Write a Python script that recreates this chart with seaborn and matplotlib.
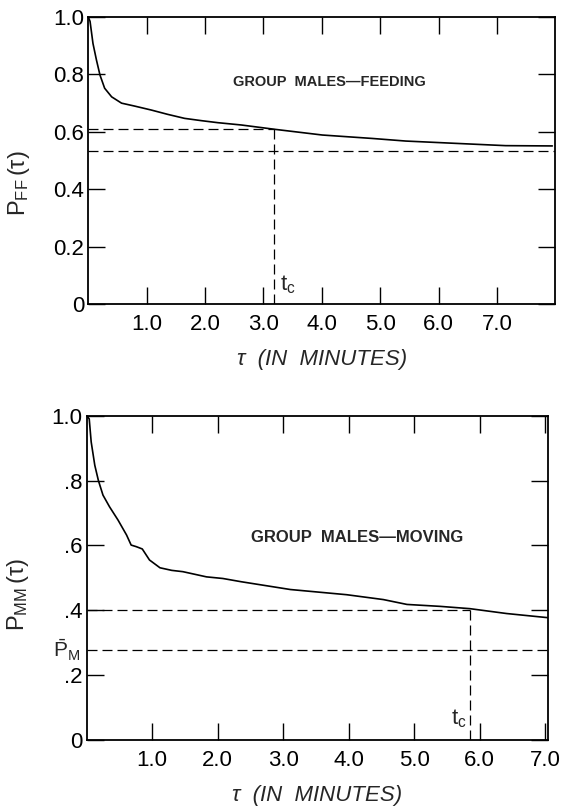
import numpy as np
import pandas as pd
import seaborn as sns
from matplotlib import pyplot as plt
from matplotlib import transforms

# --- data ---
# upper panel: group males, feeding
tau_feed = [0.0, 0.03, 0.08, 0.14, 0.20, 0.28, 0.40, 0.57, 0.79, 1.08, 1.36, 1.65,
            1.94, 2.22, 2.62, 3.19, 4.01, 4.87, 5.44, 6.29, 7.15, 7.95]
p_ff = [1.0, 0.985, 0.908, 0.85, 0.798, 0.752, 0.722, 0.70, 0.69, 0.676, 0.661, 0.647,
        0.639, 0.632, 0.624, 0.609, 0.589, 0.577, 0.568, 0.56, 0.552, 0.551]
tc_feed = 3.18
p_tc_feed = 0.609
p_bar_feed = 0.534

# lower panel: group males, moving
tau_move = [0.0, 0.04, 0.07, 0.125, 0.18, 0.25, 0.35, 0.48, 0.61, 0.68, 0.76, 0.85,
            0.96, 1.12, 1.30, 1.47, 1.83, 2.08, 2.36, 3.11, 3.97, 4.53, 4.89, 5.40,
            5.85, 6.41, 7.05]
p_mm = [1.0, 0.99, 0.919, 0.847, 0.80, 0.755, 0.719, 0.678, 0.632, 0.601, 0.596, 0.589,
        0.555, 0.531, 0.523, 0.519, 0.503, 0.498, 0.488, 0.464, 0.448, 0.433, 0.418, 0.412,
        0.405, 0.39, 0.377]
tc_move = 5.85
p_tc_move = 0.402
p_bar_move = 0.277

x_ticks = [1, 2, 3, 4, 5, 6, 7]
x_labels = ['1.0', '2.0', '3.0', '4.0', '5.0', '6.0', '7.0']
y_ticks = [0, 0.2, 0.4, 0.6, 0.8, 1.0]
y_labels_feed = ['0', '0.2', '0.4', '0.6', '0.8', '1.0']
y_labels_move = ['0', '.2', '.4', '.6', '.8', '1.0']

feed = pd.DataFrame({'tau': tau_feed, 'p': p_ff})
move = pd.DataFrame({'tau': tau_move, 'p': p_mm})

sns.set_style('ticks')
plt.rcParams['font.family'] = ['Liberation Sans', 'DejaVu Sans']
plt.rcParams['mathtext.fontset'] = 'custom'
plt.rcParams['mathtext.rm'] = 'Liberation Sans'
plt.rcParams['mathtext.it'] = 'Liberation Sans:italic'

fig = plt.figure(figsize=(5.66, 8.11), dpi=100)
ax1 = fig.add_axes([0.156, 0.625, 0.825, 0.354])
ax2 = fig.add_axes([0.153, 0.0875, 0.816, 0.4])

dash = (8, 4)

def style(ax, xmax, ylabels):
    ax.set_xlim(0, xmax)
    ax.set_ylim(0, 1.0)
    ax.set_xticks(x_ticks)
    ax.set_xticklabels(x_labels)
    ax.set_yticks(y_ticks)
    ax.set_yticklabels(ylabels)
    ax.tick_params(direction='in', length=12, width=1.0, top=True, right=True,
                   labelsize=16, colors='black')
    ax.tick_params(axis='x', pad=7)
    ax.tick_params(axis='y', pad=3)
    for s in ax.spines.values():
        s.set_visible(True)
        s.set_linewidth(1.3)
        s.set_color('black')
    ax.set_xlabel('τ  (IN  MINUTES)', fontsize=16, style='italic', labelpad=10)


# top panel
sns.lineplot(data=feed, x='tau', y='p', ax=ax1, color='black', lw=1.2)
style(ax1, 8.0, y_labels_feed)
ax1.plot([0, tc_feed], [p_tc_feed, p_tc_feed], color='black', lw=0.9, dashes=dash)
ax1.plot([tc_feed, tc_feed], [0, p_tc_feed], color='black', lw=0.9, dashes=dash)
ax1.plot([0, 8.0], [p_bar_feed, p_bar_feed], color='black', lw=0.9, dashes=dash)
ax1.text(tc_feed + 0.1, 0.03, r'$\mathregular{t_c}$', fontsize=16, ha='left', va='bottom')
ax1.text(4.13, 0.773, 'GROUP  MALES—FEEDING', fontsize=10.5, fontweight='bold',
         ha='center', va='center')
ax1.set_ylabel(r'$\mathregular{P_{FF}\,(\tau)}$', fontsize=17)
ax1.yaxis.set_label_coords(-0.12, 0.42)

# bottom panel
sns.lineplot(data=move, x='tau', y='p', ax=ax2, color='black', lw=1.2)
style(ax2, 7.05, y_labels_move)
ax2.plot([0, tc_move], [p_tc_move, p_tc_move], color='black', lw=0.9, dashes=dash)
ax2.plot([tc_move, tc_move], [0, p_tc_move], color='black', lw=0.9, dashes=dash)
ax2.plot([0, 7.05], [p_bar_move, p_bar_move], color='black', lw=0.9, dashes=dash)
ax2.text(tc_move - 0.05, 0.03, r'$\mathregular{t_c}$', fontsize=16, ha='right', va='bottom')
ax2.text(4.13, 0.625, 'GROUP  MALES—MOVING', fontsize=12, fontweight='bold',
         ha='center', va='center')
trans = transforms.blended_transform_factory(ax2.transAxes, ax2.transData)
ax2.text(-0.015, p_bar_move, r'$\mathregular{\bar{P}_M}$', fontsize=15, transform=trans,
         ha='right', va='center')
ax2.set_ylabel(r'$\mathregular{P_{MM}\,(\tau)}$', fontsize=17)
ax2.yaxis.set_label_coords(-0.12, 0.45)

fig.savefig('out.png', dpi=100)
